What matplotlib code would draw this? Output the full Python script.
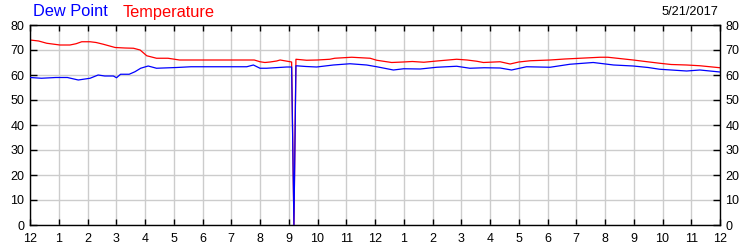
import matplotlib
matplotlib.use("Agg")
import matplotlib.pyplot as plt

temp_hours = [0, 0.3, 0.58, 1.04, 1.39, 1.6, 1.8, 2.09, 2.3, 2.55, 2.96, 3.3, 3.6, 3.83, 4.06, 4.4,
              4.8, 5.2, 6.0, 7.0, 7.8, 8.0, 8.17, 8.35, 8.58, 8.7, 9.1, 9.18, 9.25, 9.62, 10.0,
              10.43, 10.6, 11.19, 11.83, 12.06, 12.58, 12.98, 13.3, 13.7, 14.15, 14.84, 15.2,
              15.54, 15.77, 16.35, 16.7, 17.0, 17.4, 18.09, 18.6, 19.13, 19.83, 20.1, 20.5,
              20.98, 21.4, 21.9, 22.3, 22.84, 23.3, 24.0]
temperature = [74, 73.6, 72.7, 72, 72, 72.5, 73.3, 73.3, 73, 72.3, 71, 70.8, 70.7, 70, 67.7, 66.7,
               66.7, 66, 66, 66, 66, 65.3, 65, 65.2, 65.6, 66, 65.2, 0, 66.3, 65.9, 66,
               66.3, 66.7, 67.1, 66.7, 65.9, 65, 65.2, 65.4, 65.1, 65.6, 66.3, 66,
               65.5, 65, 65.3, 64.4, 65.2, 65.7, 66, 66.4, 66.7, 67.1, 67.1, 66.6,
               66, 65.4, 64.7, 64.2, 64, 63.7, 62.9]

dew_hours = [0, 0.4, 0.9, 1.3, 1.68, 2.09, 2.37, 2.6, 2.9, 3.01, 3.15, 3.45, 3.65, 3.85, 4.11, 4.4,
             5.1, 5.6, 6.37, 7.54, 7.77, 8.0, 8.23, 8.93, 9.1, 9.18, 9.25, 9.6, 9.97, 10.55,
             11.13, 11.71, 12.06, 12.64, 13.0, 13.57, 14.15, 14.84, 15.3, 15.8, 16.35, 16.75,
             17.27, 18.09, 18.78, 19.59, 20.3, 20.98, 21.5, 21.9, 22.84, 23.3, 24.0]
dew_point = [59, 58.7, 59, 59, 58, 58.7, 60, 59.6, 59.6, 58.9, 60.3, 60.3, 61.3, 62.7, 63.6, 62.7,
             63, 63.3, 63.3, 63.3, 64, 62.7, 62.7, 63.2, 63.2, 0, 63.7, 63.4, 63.2, 64,
             64.5, 64, 63.3, 62, 62.5, 62.4, 63.1, 63.5, 62.7, 62.9, 62.8, 62,
             63.3, 63.1, 64.3, 65, 64, 63.6, 63, 62.3, 61.6, 62, 61.2]

x_ticks = list(range(0, 25))
x_labels = ["12", "1", "2", "3", "4", "5", "6", "7", "8", "9", "10", "11",
            "12", "1", "2", "3", "4", "5", "6", "7", "8", "9", "10", "11", "12"]
y_ticks = [0, 10, 20, 30, 40, 50, 60, 70, 80]

plt.rcParams['font.family'] = ['Liberation Sans', 'DejaVu Sans']

fig = plt.figure(figsize=(7.5, 2.5), dpi=100)
ax = fig.add_axes([0.04, 0.1, 0.92, 0.8])
ax.plot(dew_hours, dew_point, color='#0000ff', lw=0.9, zorder=3)
ax.plot(temp_hours, temperature, color='#ff0000', lw=0.9, zorder=2)

ax.set_xlim(0, 24)
ax.set_ylim(0, 80)
ax.set_xticks(x_ticks)
ax.set_xticklabels(x_labels)
ax.set_yticks(y_ticks)
ax.grid(True, color='#cccccc', lw=1.0, zorder=0)
ax.set_axisbelow(True)
for s in ax.spines.values():
    s.set_color('black')
    s.set_linewidth(1.0)
ax.tick_params(axis='x', which='both', direction='in', length=4, width=1, top=True, bottom=True,
               labelsize=9, pad=6, colors='black')
ax.tick_params(axis='y', which='both', direction='in', length=5, width=1, left=True, right=True,
               labelleft=True, labelright=True, labelsize=9, pad=4, colors='black')

fig.text(33/750, 1 - 12/250, "Dew Point", color='#0000ff', fontsize=11.8, va='center', ha='left')
fig.text(123/750, 1 - 12/250, "Temperature", color='#ff0000', fontsize=11.8, va='center', ha='left')
fig.text(718/750, 1 - 12/250, "5/21/2017", color='#000000', fontsize=9.2, va='center', ha='right')

fig.savefig("out.png", dpi=100)
